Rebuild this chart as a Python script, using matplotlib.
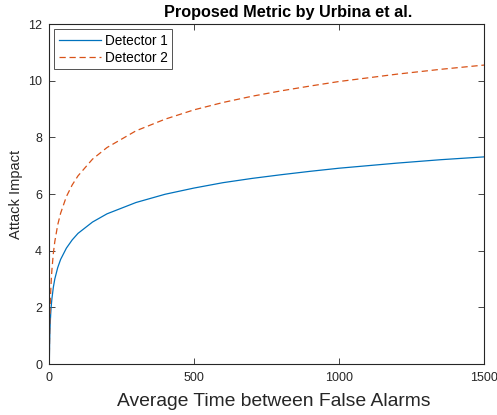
import matplotlib
matplotlib.use('Agg')
import matplotlib.pyplot as plt

# values
time_x = [1, 2, 3, 4, 6, 8, 10, 15, 20, 30, 40, 60, 80, 100, 150, 200, 300, 400, 500,
          600, 700, 800, 900, 1000, 1200, 1350, 1500]
det1_y = [0, 0.69, 1.10, 1.39, 1.79, 2.08, 2.30, 2.71, 3.00, 3.40, 3.69, 4.09, 4.38, 4.61,
          5.01, 5.30, 5.70, 5.99, 6.21, 6.40, 6.55, 6.68, 6.80, 6.91, 7.09, 7.21, 7.31]
det2_y = [0, 1.00, 1.58, 2.00, 2.58, 3.00, 3.32, 3.91, 4.32, 4.91, 5.32, 5.91, 6.32, 6.64,
          7.23, 7.64, 8.23, 8.64, 8.97, 9.23, 9.45, 9.64, 9.81, 9.97, 10.23, 10.40, 10.55]

XTICKS = [0, 500, 1000, 1500]
YTICKS = [0, 2, 4, 6, 8, 10, 12]

plt.rcParams['font.family'] = ['Liberation Sans', 'DejaVu Sans']
AX_COL = '#262626'

fig = plt.figure(figsize=(4.97, 4.15), dpi=100)
ax = fig.add_axes([49/497, 1 - 364/415, 435/497, 340/415])

ax.plot(time_x, det1_y, '-', color='#0072BD', lw=0.9, label='Detector 1')
ax.plot(time_x, det2_y, '--', color='#D95319', lw=0.9, dashes=(5, 3), label='Detector 2')

ax.set_xlim(0, 1500)
ax.set_ylim(0, 12)
ax.set_xticks(XTICKS)
ax.set_yticks(YTICKS)
ax.tick_params(direction='in', top=True, right=True, length=4, width=0.6,
               colors=AX_COL, labelsize=9)
ax.tick_params(axis='x', pad=6)
ax.tick_params(axis='y', pad=5)
for s in ax.spines.values():
    s.set_color(AX_COL)
    s.set_linewidth(0.8)

ax.set_title('Proposed Metric by Urbina et al.', fontsize=11.7, fontweight='bold',
             x=(288 - 49) / 435, pad=5)
ax.set_xlabel('Average Time between False Alarms', fontsize=13.9, color=AX_COL, labelpad=6)
ax.xaxis.label.set_x((274 - 49) / 435)
ax.set_ylabel('Attack Impact', fontsize=10.5, color=AX_COL)
ax.yaxis.set_label_coords(-0.060, 0.5)

leg = ax.legend(loc='upper left', fontsize=9.8, frameon=True, fancybox=False,
                edgecolor=AX_COL, borderpad=0.3, handlelength=3.1,
                handletextpad=0.3, labelspacing=0.25, borderaxespad=0.4)
leg.get_frame().set_linewidth(0.7)

fig.savefig('out.png', dpi=100)
